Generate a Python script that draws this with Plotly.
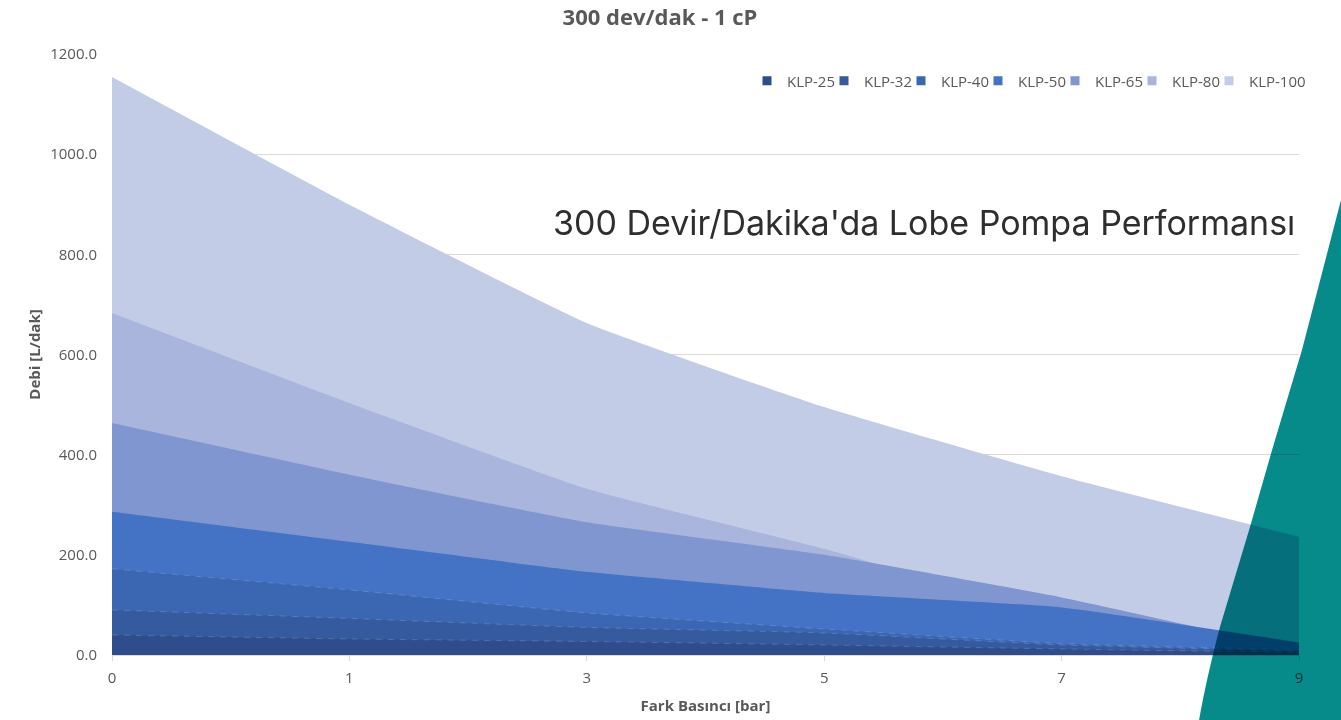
import plotly.graph_objects as go

# ---------------- data ----------------
pressure = ["0", "1", "3", "5", "7", "9"]          # Fark Basıncı [bar] (category axis)
klp25 = [40, 32, 27, 20, 12, 5]
klp32 = [90, 73, 55, 44, 20, 8]
klp40 = [172, 130, 84, 52, 23, 10]
klp50 = [286, 226, 166, 124, 95, 25]
klp65 = [463, 360, 265, 200, 115, 10]
klp80 = [683, 503, 332, 212, 75, 5]
klp100 = [1154, 899, 663, 495, 357, 236]
series_names = ["KLP-25", "KLP-32", "KLP-40", "KLP-50", "KLP-65", "KLP-80", "KLP-100"]
y_ticks = [0, 200, 400, 600, 800, 1000, 1200]

# ---------------- style ----------------
colors = ["#2f4d8a", "#355b9e", "#3b67b2", "#4472c4", "#7f96d0", "#a9b5dc", "#c3cce6"]
edge_dash = [True, True, True, False, False, False, False]
series_values = [klp25, klp32, klp40, klp50, klp65, klp80, klp100]
FONT = "Open Sans"
GREY = "#595959"

# layout geometry (pixels in a 1341x720 page)
W, H = 1341, 720
L, R, T, B = 112, 42, 54, 65
pw, ph = W - L - R, H - T - B


def px(x):
    return (x - L) / pw


def py(y):
    return (H - B - y) / ph


fig = go.Figure()

# back-to-front: largest pump at the back, smallest in front
for name, vals, col, dashed in reversed(list(zip(series_names, series_values, colors, edge_dash))):
    line = dict(color=col, shape="spline", smoothing=0.4, width=0)
    if dashed:
        line.update(width=1, color="rgba(255,255,255,0.16)", dash="6px,6px")
    fig.add_trace(go.Scatter(
        x=pressure, y=vals, name=name, mode="lines", line=line,
        fill="tozeroy", fillcolor=col, showlegend=False,
        hovertemplate=name + ": %{y:.1f}<extra></extra>",
    ))

# legend entries (square markers as in the original), one small legend per entry
legend_common = dict(orientation="h", yanchor="middle", y=py(81), xanchor="left",
                     font=dict(family=FONT, size=15, color=GREY),
                     bgcolor="rgba(0,0,0,0)", itemwidth=30, tracegroupgap=0)
legend_layout = {}
for i, (name, col) in enumerate(zip(series_names, colors)):
    key = "legend" if i == 0 else f"legend{i + 1}"
    fig.add_trace(go.Scatter(
        x=[None], y=[None], name=name, mode="markers",
        marker=dict(symbol="square", size=9, color=col), showlegend=True,
        legend=key,
    ))
    legend_layout[key] = dict(x=px(747 + i * 77), **legend_common)

# decorative teal band on the right edge
edge = [(1341, 200), (1302, 350), (1272, 450), (1250, 527), (1220, 627)]
path = "M " + " L ".join(f"{px(a):.4f},{py(b):.4f}" for a, b in edge)
path += f" Q {px(1206):.4f},{py(680):.4f} {px(1199):.4f},{py(720):.4f}"
path += f" L {px(1341):.4f},{py(720):.4f} Z"
fig.add_shape(type="path", path=path, xref="paper", yref="paper",
              fillcolor="#078b8a", line=dict(width=0), layer="above")

fig.add_annotation(
    text="300 Devir/Dakika'da Lobe Pompa Performansı",
    xref="paper", yref="paper", x=px(1297), y=py(223),
    xanchor="right", yanchor="middle", showarrow=False,
    font=dict(family="Inter", size=34, color="#2e2e2e"),
)

fig.update_layout(
    width=W, height=H,
    margin=dict(l=L, r=R, t=T, b=B, pad=0, autoexpand=False),
    paper_bgcolor="white", plot_bgcolor="white",
    font=dict(family=FONT, color=GREY),
    title=dict(text="<b>300 dev/dak - 1 cP</b>", xref="container", x=660 / W,
               xanchor="center", yref="container", y=1 - 17 / H, yanchor="middle",
               font=dict(family=FONT, size=22, color=GREY)),
    showlegend=True,
    hovermode="x unified",
    **legend_layout,
)

fig.update_xaxes(
    type="category", categoryorder="array", categoryarray=pressure,
    range=[0, len(pressure) - 1], automargin=False,
    showgrid=False, zeroline=False,
    showline=True, linecolor="#d9d9d9", linewidth=1,
    ticks="outside", ticklen=5, tickcolor="#d9d9d9",
    ticklabelstandoff=4,
    tickfont=dict(family=FONT, size=15, color=GREY),
    title=dict(text="<b>Fark Basıncı [bar]</b>", standoff=14,
               font=dict(family=FONT, size=15, color=GREY)),
)
fig.update_yaxes(
    range=[0, 1200], tickvals=y_ticks, tickformat=".1f", automargin=False,
    showgrid=True, gridcolor="#d9d9d9", gridwidth=1,
    zeroline=False, showline=False, ticks="",
    ticklabelstandoff=14,
    tickfont=dict(family=FONT, size=15, color=GREY),
    title=dict(text="<b>Debi [L/dak]</b>", standoff=5,
               font=dict(family=FONT, size=15, color=GREY)),
)

post = """
document.body.style.margin = '0';
document.body.style.padding = '0';
var gd = document.getElementById('{plot_id}');
function blend(){
  document.querySelectorAll('.layer-above .shapelayer path').forEach(function(p){
    p.style.mixBlendMode = 'multiply';
  });
}
blend();
if (gd && gd.on) { gd.on('plotly_afterplot', blend); }
setTimeout(blend, 30);
"""

fig.write_html("out.html", post_script=post, config={"displayModeBar": False})
